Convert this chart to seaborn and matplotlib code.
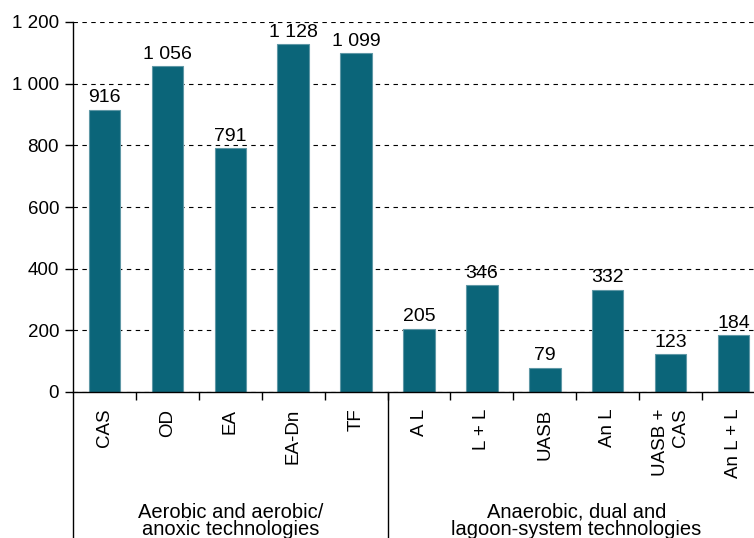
import matplotlib
matplotlib.use("Agg")
import matplotlib.pyplot as plt
import matplotlib.ticker as mticker
import pandas as pd
import seaborn as sns

categories = ["CAS", "OD", "EA", "EA-Dn", "TF", "A L", "L + L", "UASB", "An L", "UASB +\nCAS", "An L + L"]
values = [916, 1056, 791, 1128, 1099, 205, 346, 79, 332, 123, 184]
groups = ["Aerobic and aerobic/\nanoxic technologies",
          "Anaerobic, dual and\nlagoon-system technologies"]
group_sizes = [5, 6]
y_ticks = [0, 200, 400, 600, 800, 1000, 1200]


def fmt(v):
    return "{:,}".format(int(v)).replace(",", " ")


sns.set_theme(style="white")
plt.rcParams["font.family"] = ["Liberation Sans", "DejaVu Sans"]

df = pd.DataFrame({"cat": categories, "val": values})

fig = plt.figure(figsize=(7.54, 5.38), dpi=100)
ax = fig.add_axes([73 / 754, 146 / 538, 692 / 754, 370 / 538])

sns.barplot(data=df, x="cat", y="val", color="#0b6579", width=0.5,
            edgecolor="#5f98a6", linewidth=0.8, saturation=1, ax=ax)

ax.set_ylim(0, 1200)
ax.set_xlim(-0.5, len(categories) - 0.5)
ax.set_yticks(y_ticks)
ax.yaxis.set_major_formatter(mticker.FuncFormatter(lambda v, p: fmt(v)))
ax.yaxis.grid(True, linestyle=(0, (4, 4)), color="black", linewidth=0.8)
ax.set_axisbelow(True)
ax.set_xlabel("")
ax.set_ylabel("")

for s in ["top", "right"]:
    ax.spines[s].set_visible(False)
for s in ["left", "bottom"]:
    ax.spines[s].set_color("black")
    ax.spines[s].set_linewidth(1)

ax.tick_params(axis="y", direction="out", length=6, width=1, color="black",
               labelsize=13.5, labelcolor="black", pad=4, left=True)
ax.set_xticks(range(len(categories)))
ax.set_xticklabels(categories, rotation=90, fontsize=13.5, color="black")
for lab in ax.get_xticklabels():
    lab.set_multialignment("right")
ax.tick_params(axis="x", which="major", length=0, pad=12)
ax.set_xticks([i + 0.5 for i in range(len(categories))], minor=True)
ax.tick_params(axis="x", which="minor", direction="out", length=6, width=1,
               color="black", bottom=True)

for i, v in enumerate(values):
    ax.annotate(fmt(v), (i, v), xytext=(0, 2.5), textcoords="offset points",
                ha="center", va="bottom", fontsize=14, color="black")

# left axis line and group separators continue down to the group labels
trans = ax.get_xaxis_transform()
start = -0.5
for name, n in zip(groups, group_sizes):
    ax.plot([start, start], [0, -0.5], transform=trans, color="black",
            linewidth=1, clip_on=False)
    ax.text(start + n / 2, -0.348, name, transform=trans, ha="center",
            va="center", fontsize=14.5, color="black", linespacing=0.9)
    start += n

fig.savefig("out.png", dpi=100)
